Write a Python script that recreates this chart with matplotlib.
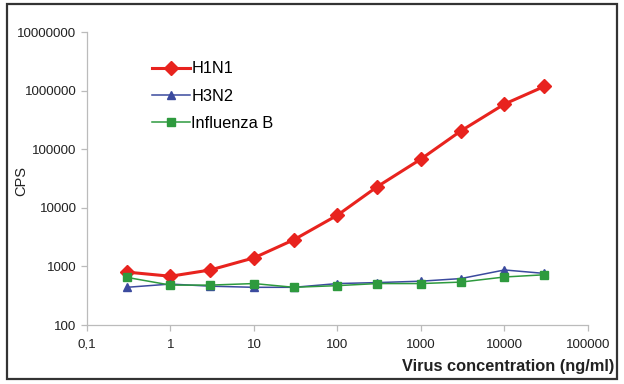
import numpy as np
import matplotlib
matplotlib.use('Agg')
import matplotlib.pyplot as plt
from matplotlib.patches import Rectangle

plt.rcParams['font.family'] = ['Liberation Sans', 'DejaVu Sans']

# virus concentration (ng/ml)
conc = [0.3, 1, 3, 10, 30, 100, 300, 1000, 3000, 10000, 30000]

# CPS per strain
h1n1 = [800, 680, 870, 1400, 2850, 7500, 23000, 68000, 205000, 590000, 1180000]
h3n2 = [440, 500, 460, 440, 440, 510, 530, 560, 620, 870, 760]
flu_b = [650, 480, 480, 510, 440, 470, 510, 510, 540, 660, 720]

xticks = [0.1, 1, 10, 100, 1000, 10000, 100000]
xtick_labels = ['0,1', '1', '10', '100', '1000', '10000', '100000']
yticks = [100, 1000, 10000, 100000, 1000000, 10000000]
ytick_labels = ['100', '1000', '10000', '100000', '1000000', '10000000']

fig = plt.figure(figsize=(6.24, 3.84), dpi=100)
ax = fig.add_axes([0.1394, 0.1536, 0.8029, 0.763])

ax.plot(conc, h1n1, '-D', color='#e8231e', lw=2.2, ms=7.5, label='H1N1')
ax.plot(conc, h3n2, '-^', color='#3b4a9e', lw=1.1, ms=6, label='H3N2')
ax.plot(conc, flu_b, '-s', color='#2e9a3e', lw=1.1, ms=5.5, label='Influenza B')

ax.set_xscale('log')
ax.set_yscale('log')
ax.set_xlim(0.1, 100000)
ax.set_ylim(100, 10000000)
ax.set_xticks(xticks)
ax.set_xticklabels(xtick_labels)
ax.set_yticks(yticks)
ax.set_yticklabels(ytick_labels)
ax.minorticks_off()

for s in ['top', 'right']:
    ax.spines[s].set_visible(False)
for s in ['left', 'bottom']:
    ax.spines[s].set_color('#bbbbbb')
    ax.spines[s].set_linewidth(0.9)
ax.tick_params(colors='#bbbbbb', labelcolor='#222222', labelsize=9.6, length=4, width=0.9)
ax.tick_params(axis='x', pad=6)

ax.set_ylabel('CPS', fontsize=10.5, color='#222222')
ax.yaxis.set_label_coords(-0.118, 0.49)
ax.set_xlabel('Virus concentration (ng/ml)', fontsize=11.8, fontweight='bold', color='#222222')
ax.xaxis.set_label_coords(1.052, -0.14)
ax.xaxis.label.set_horizontalalignment('right')
ax.xaxis.label.set_verticalalignment('center')

ax.legend(loc='upper left', bbox_to_anchor=(0.1, 0.95), frameon=False,
          fontsize=11.8, handlelength=2.3, labelspacing=0.75, handletextpad=0.1)

fig.patches.append(Rectangle((0.011, 0.013), 0.978, 0.976, transform=fig.transFigure,
                             fill=False, edgecolor='#333333', lw=1.6))

fig.savefig('out.png', dpi=100)
